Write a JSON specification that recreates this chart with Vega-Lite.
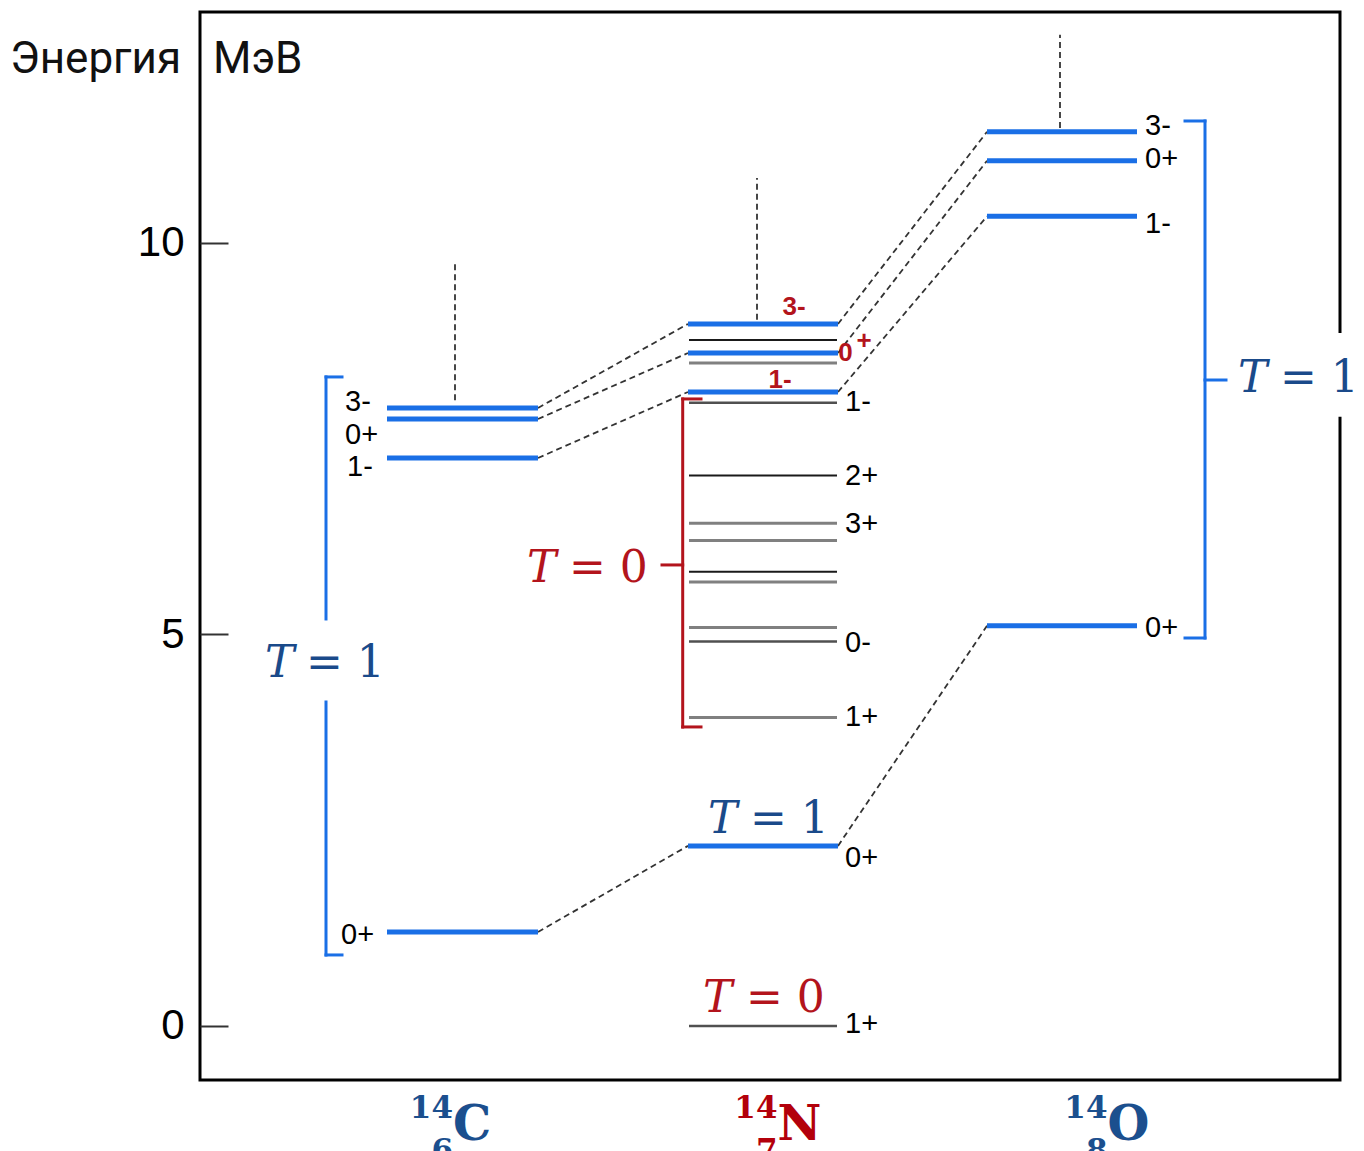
{
  "$schema": "https://vega.github.io/schema/vega-lite/v6.json",
  "width": 1140,
  "height": 1068,
  "autosize": {"type": "none"},
  "padding": {"left": 200, "top": 12, "right": 24, "bottom": 71},
  "background": "white",
  "config": {"view": {"stroke": "black", "strokeWidth": 3}},
  "datasets": {
    "mask": [{"x": 10.32, "x2": 11.62, "y": 7.78, "y2": 8.85}],
    "links": [
      {"x": 3.38, "y": 1.20, "x2": 4.88, "y2": 2.30},
      {"x": 3.38, "y": 7.254, "x2": 4.88, "y2": 8.097},
      {"x": 3.38, "y": 7.752, "x2": 4.88, "y2": 8.595},
      {"x": 3.38, "y": 7.893, "x2": 4.88, "y2": 8.966},
      {"x": 6.38, "y": 2.30, "x2": 7.87, "y2": 5.11},
      {"x": 6.38, "y": 8.097, "x2": 7.87, "y2": 10.34},
      {"x": 6.38, "y": 8.595, "x2": 7.87, "y2": 11.05},
      {"x": 6.38, "y": 8.966, "x2": 7.87, "y2": 11.42},
      {"x": 2.55, "y": 7.99, "x2": 2.55, "y2": 9.78},
      {"x": 5.57, "y": 9.02, "x2": 5.57, "y2": 10.83},
      {"x": 8.60, "y": 11.47, "x2": 8.60, "y2": 12.66}
    ],
    "brackets": [
      {"x": 1.26, "y": 8.289, "x2": 1.42, "y2": 8.289, "t": "blue"},
      {"x": 1.26, "y": 8.289, "x2": 1.26, "y2": 5.198, "t": "blue"},
      {"x": 1.26, "y": 4.138, "x2": 1.26, "y2": 0.907, "t": "blue"},
      {"x": 1.26, "y": 0.907, "x2": 1.42, "y2": 0.907, "t": "blue"},
      {"x": 9.85, "y": 11.558, "x2": 10.05, "y2": 11.558, "t": "blue"},
      {"x": 10.05, "y": 11.558, "x2": 10.05, "y2": 4.955, "t": "blue"},
      {"x": 9.85, "y": 4.955, "x2": 10.05, "y2": 4.955, "t": "blue"},
      {"x": 10.05, "y": 8.25, "x2": 10.26, "y2": 8.25, "t": "blue"},
      {"x": 4.827, "y": 8.008, "x2": 5.01, "y2": 8.008, "t": "red"},
      {"x": 4.827, "y": 8.008, "x2": 4.827, "y2": 3.819, "t": "red"},
      {"x": 4.827, "y": 3.819, "x2": 5.01, "y2": 3.819, "t": "red"},
      {"x": 4.62, "y": 5.888, "x2": 4.827, "y2": 5.888, "t": "red"}
    ],
    "levels": [
      {"iso": "C", "x": 1.87, "x2": 3.38, "y": 1.20, "t": "blue"},
      {"iso": "C", "x": 1.87, "x2": 3.38, "y": 7.254, "t": "blue"},
      {"iso": "C", "x": 1.87, "x2": 3.38, "y": 7.752, "t": "blue"},
      {"iso": "C", "x": 1.87, "x2": 3.38, "y": 7.893, "t": "blue"},
      {"iso": "N", "x": 4.88, "x2": 6.38, "y": 2.30, "t": "blue"},
      {"iso": "N", "x": 4.88, "x2": 6.38, "y": 8.097, "t": "blue"},
      {"iso": "N", "x": 4.88, "x2": 6.38, "y": 8.595, "t": "blue"},
      {"iso": "N", "x": 4.88, "x2": 6.38, "y": 8.966, "t": "blue"},
      {"iso": "N", "x": 4.89, "x2": 6.37, "y": 0.0, "t": "dark"},
      {"iso": "N", "x": 4.89, "x2": 6.37, "y": 3.94, "t": "gray"},
      {"iso": "N", "x": 4.89, "x2": 6.37, "y": 4.91, "t": "dark"},
      {"iso": "N", "x": 4.89, "x2": 6.37, "y": 5.09, "t": "gray"},
      {"iso": "N", "x": 4.89, "x2": 6.37, "y": 5.67, "t": "gray"},
      {"iso": "N", "x": 4.89, "x2": 6.37, "y": 5.80, "t": "black"},
      {"iso": "N", "x": 4.89, "x2": 6.37, "y": 6.20, "t": "gray"},
      {"iso": "N", "x": 4.89, "x2": 6.37, "y": 6.42, "t": "gray"},
      {"iso": "N", "x": 4.89, "x2": 6.37, "y": 7.03, "t": "black"},
      {"iso": "N", "x": 4.89, "x2": 6.37, "y": 7.96, "t": "dark"},
      {"iso": "N", "x": 4.89, "x2": 6.37, "y": 8.467, "t": "gray"},
      {"iso": "N", "x": 4.89, "x2": 6.37, "y": 8.76, "t": "black"},
      {"iso": "O", "x": 7.87, "x2": 9.37, "y": 5.11, "t": "blue"},
      {"iso": "O", "x": 7.87, "x2": 9.37, "y": 10.34, "t": "blue"},
      {"iso": "O", "x": 7.87, "x2": 9.37, "y": 11.05, "t": "blue"},
      {"iso": "O", "x": 7.87, "x2": 9.37, "y": 11.42, "t": "blue"}
    ],
    "spins": [
      {"x": 1.45, "y": 7.97, "txt": "3-"},
      {"x": 1.45, "y": 7.55, "txt": "0+"},
      {"x": 1.47, "y": 7.14, "txt": "1-"},
      {"x": 1.41, "y": 1.16, "txt": "0+"},
      {"x": 6.45, "y": 7.97, "txt": "1-"},
      {"x": 6.45, "y": 7.02, "txt": "2+"},
      {"x": 6.45, "y": 6.41, "txt": "3+"},
      {"x": 6.45, "y": 4.89, "txt": "0-"},
      {"x": 6.45, "y": 3.95, "txt": "1+"},
      {"x": 6.45, "y": 2.15, "txt": "0+"},
      {"x": 6.45, "y": 0.03, "txt": "1+"},
      {"x": 9.45, "y": 11.49, "txt": "3-"},
      {"x": 9.45, "y": 11.07, "txt": "0+"},
      {"x": 9.45, "y": 10.24, "txt": "1-"},
      {"x": 9.45, "y": 5.08, "txt": "0+"}
    ],
    "redspins": [
      {"x": 5.94, "y": 9.18, "txt": "3-", "part": "a"},
      {"x": 5.80, "y": 8.25, "txt": "1-", "part": "a"},
      {"x": 6.455, "y": 8.59, "txt": "0", "part": "b"},
      {"x": 6.64, "y": 8.75, "txt": "+", "part": "b"}
    ],
    "titles": [
      {"x": -1.90, "y": 12.34, "txt": "Энергия"},
      {"x": 0.13, "y": 12.34, "txt": "МэВ"}
    ],
    "tlabels": [
      {"x": 0.65, "y": 4.457, "txt": "T", "part": "T", "grp": "blue"},
      {"x": 1.06, "y": 4.457, "txt": "= 1", "part": "eq", "grp": "blue"},
      {"x": 5.08, "y": 2.465, "txt": "T", "part": "T", "grp": "blue"},
      {"x": 5.50, "y": 2.465, "txt": "= 1", "part": "eq", "grp": "blue"},
      {"x": 10.38, "y": 8.10, "txt": "T", "part": "T", "grp": "blue"},
      {"x": 10.80, "y": 8.10, "txt": "= 1", "part": "eq", "grp": "blue"},
      {"x": 5.03, "y": 0.179, "txt": "T", "part": "T", "grp": "red"},
      {"x": 5.46, "y": 0.179, "txt": "= 0", "part": "eq", "grp": "red"},
      {"x": 3.27, "y": 5.67, "txt": "T", "part": "T", "grp": "red"},
      {"x": 3.69, "y": 5.67, "txt": "= 0", "part": "eq", "grp": "red"}
    ],
    "isos": [
      {"iso": "C", "x": 2.53, "y": -1.175, "txt": "14", "part": "sup"},
      {"iso": "C", "x": 2.53, "y": -1.72, "txt": "6", "part": "sub"},
      {"iso": "C", "x": 2.53, "y": -1.456, "txt": "C", "part": "main"},
      {"iso": "N", "x": 5.775, "y": -1.175, "txt": "14", "part": "sup"},
      {"iso": "N", "x": 5.775, "y": -1.72, "txt": "7", "part": "sub"},
      {"iso": "N", "x": 5.775, "y": -1.456, "txt": "N", "part": "main"},
      {"iso": "O", "x": 9.075, "y": -1.175, "txt": "14", "part": "sup"},
      {"iso": "O", "x": 9.075, "y": -1.72, "txt": "8", "part": "sub"},
      {"iso": "O", "x": 9.075, "y": -1.456, "txt": "O", "part": "main"}
    ]
  },
  "encoding": {
    "x": {"field": "x", "type": "quantitative", "scale": {"domain": [0, 11.4], "nice": false, "zero": false}, "axis": null},
    "y": {
      "field": "y", "type": "quantitative",
      "scale": {"domain": [-0.69, 12.95], "nice": false, "zero": false},
      "axis": {
        "values": [0, 5, 10], "title": null, "grid": false, "domain": false,
        "tickSize": -28, "tickWidth": 2, "tickColor": "#333333",
        "labelPadding": 44, "labelFont": "Liberation Sans", "labelFontSize": 42, "labelColor": "black"
      }
    }
  },
  "layer": [
    {
      "data": {"name": "mask"},
      "mark": {"type": "rect", "fill": "white", "stroke": null},
      "encoding": {"x2": {"field": "x2"}, "y2": {"field": "y2"}}
    },
    {
      "data": {"name": "links"},
      "mark": {"type": "rule", "color": "#333333", "strokeWidth": 1.8, "strokeDash": [6, 4]},
      "encoding": {"x2": {"field": "x2"}, "y2": {"field": "y2"}}
    },
    {
      "data": {"name": "brackets"},
      "transform": [{"filter": "datum.t == 'blue'"}],
      "mark": {"type": "rule", "color": "#1a6fe6", "strokeWidth": 3, "strokeCap": "square"},
      "encoding": {"x2": {"field": "x2"}, "y2": {"field": "y2"}}
    },
    {
      "data": {"name": "brackets"},
      "transform": [{"filter": "datum.t == 'red'"}],
      "mark": {"type": "rule", "color": "#b3141c", "strokeWidth": 3, "strokeCap": "square"},
      "encoding": {"x2": {"field": "x2"}, "y2": {"field": "y2"}}
    },
    {
      "data": {"name": "levels"},
      "transform": [{"filter": "datum.t == 'gray'"}],
      "mark": {"type": "rule", "color": "#808080", "strokeWidth": 3},
      "encoding": {"x2": {"field": "x2"}}
    },
    {
      "data": {"name": "levels"},
      "transform": [{"filter": "datum.t == 'dark'"}],
      "mark": {"type": "rule", "color": "#505050", "strokeWidth": 2.5},
      "encoding": {"x2": {"field": "x2"}}
    },
    {
      "data": {"name": "levels"},
      "transform": [{"filter": "datum.t == 'black'"}],
      "mark": {"type": "rule", "color": "#1a1a1a", "strokeWidth": 2},
      "encoding": {"x2": {"field": "x2"}}
    },
    {
      "data": {"name": "levels"},
      "transform": [{"filter": "datum.t == 'blue'"}],
      "mark": {"type": "rule", "color": "#1a6fe6", "strokeWidth": 5},
      "encoding": {"x2": {"field": "x2"}}
    },
    {
      "data": {"name": "spins"},
      "mark": {"type": "text", "align": "left", "baseline": "middle", "font": "Liberation Sans", "fontSize": 29, "color": "black"},
      "encoding": {"text": {"field": "txt"}}
    },
    {
      "data": {"name": "redspins"},
      "transform": [{"filter": "datum.part == 'a'"}],
      "mark": {"type": "text", "align": "center", "baseline": "middle", "font": "Liberation Sans", "fontSize": 26, "fontWeight": "bold", "color": "#b3141c"},
      "encoding": {"text": {"field": "txt"}}
    },
    {
      "data": {"name": "redspins"},
      "transform": [{"filter": "datum.part == 'b'"}],
      "mark": {"type": "text", "align": "center", "baseline": "middle", "font": "Liberation Sans", "fontSize": 26, "fontWeight": "bold", "color": "#b3141c"},
      "encoding": {"text": {"field": "txt"}}
    },
    {
      "data": {"name": "titles"},
      "mark": {"type": "text", "align": "left", "baseline": "middle", "font": "Roboto", "fontSize": 44, "color": "#111111"},
      "encoding": {"text": {"field": "txt"}}
    },
    {
      "data": {"name": "tlabels"},
      "transform": [{"filter": "datum.part == 'T' && datum.grp == 'blue'"}],
      "mark": {"type": "text", "align": "left", "baseline": "alphabetic", "font": "DejaVu Serif", "fontStyle": "italic", "fontSize": 44, "color": "#1a4a8a"},
      "encoding": {"text": {"field": "txt"}}
    },
    {
      "data": {"name": "tlabels"},
      "transform": [{"filter": "datum.part == 'eq' && datum.grp == 'blue'"}],
      "mark": {"type": "text", "align": "left", "baseline": "alphabetic", "font": "DejaVu Serif", "fontSize": 44, "color": "#1a4a8a"},
      "encoding": {"text": {"field": "txt"}}
    },
    {
      "data": {"name": "tlabels"},
      "transform": [{"filter": "datum.part == 'T' && datum.grp == 'red'"}],
      "mark": {"type": "text", "align": "left", "baseline": "alphabetic", "font": "DejaVu Serif", "fontStyle": "italic", "fontSize": 44, "color": "#b3141c"},
      "encoding": {"text": {"field": "txt"}}
    },
    {
      "data": {"name": "tlabels"},
      "transform": [{"filter": "datum.part == 'eq' && datum.grp == 'red'"}],
      "mark": {"type": "text", "align": "left", "baseline": "alphabetic", "font": "DejaVu Serif", "fontSize": 44, "color": "#b3141c"},
      "encoding": {"text": {"field": "txt"}}
    },
    {
      "data": {"name": "isos"},
      "transform": [{"filter": "datum.part != 'main'"}],
      "mark": {"type": "text", "align": "right", "baseline": "alphabetic", "font": "DejaVu Serif", "fontWeight": "bold", "fontSize": 31},
      "encoding": {
        "text": {"field": "txt"},
        "color": {"field": "iso", "type": "nominal", "scale": {"domain": ["C", "N", "O"], "range": ["#1b4f8e", "#b3000b", "#1b4f8e"]}, "legend": null}
      }
    },
    {
      "data": {"name": "isos"},
      "transform": [{"filter": "datum.part == 'main'"}],
      "mark": {"type": "text", "align": "left", "baseline": "alphabetic", "font": "DejaVu Serif", "fontWeight": "bold", "fontSize": 48},
      "encoding": {
        "text": {"field": "txt"},
        "color": {"field": "iso", "type": "nominal", "scale": {"domain": ["C", "N", "O"], "range": ["#1b4f8e", "#b3000b", "#1b4f8e"]}, "legend": null}
      }
    }
  ]
}
